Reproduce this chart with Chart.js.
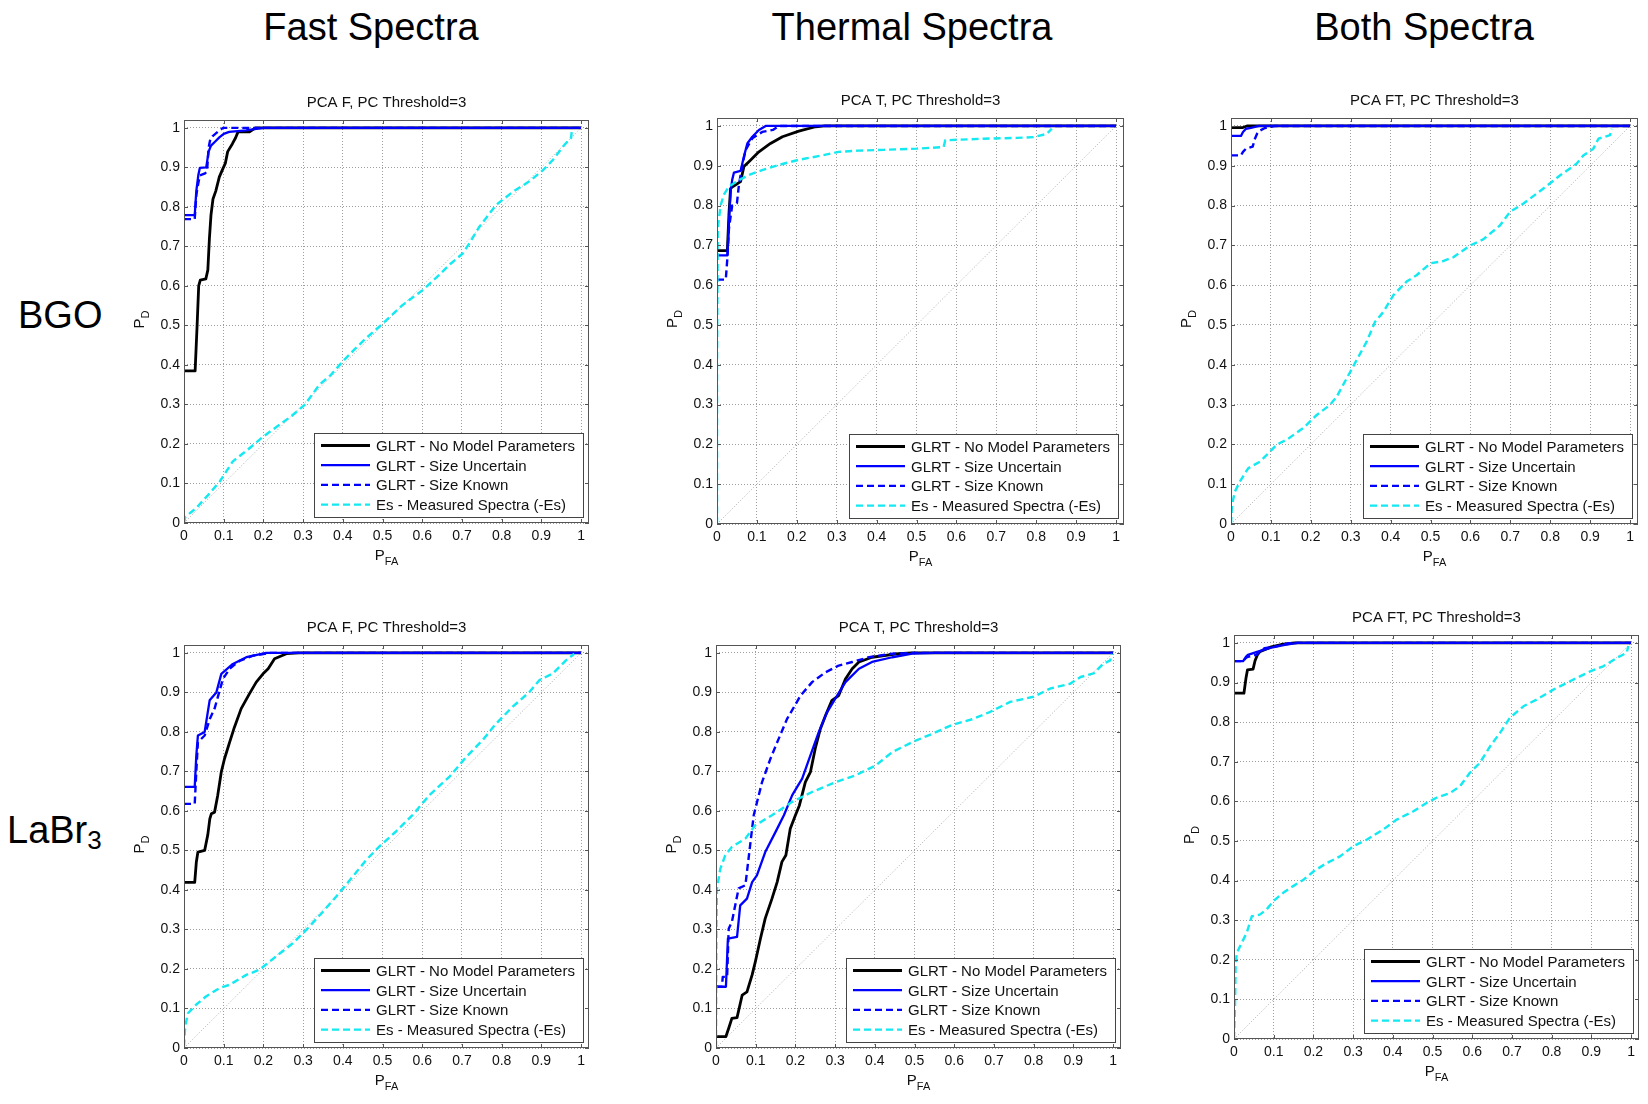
<!DOCTYPE html>
<html>
<head>
<meta charset="utf-8">
<title>PCA ROC curves</title>
<script src="https://cdn.jsdelivr.net/npm/chart.js@4.4.1/dist/chart.umd.min.js"></script>
<style>
  html, body { margin: 0; padding: 0; background: #fff; width: 1648px; height: 1104px; overflow: hidden; }
  body { position: relative; font-family: "Liberation Sans", Arial, Helvetica, sans-serif; color: #000; }
  .heading { position: absolute; font-size: 38px; line-height: 38px; white-space: nowrap; transform: translateX(-50%); }
  .rowlabel { position: absolute; font-size: 38px; line-height: 38px; white-space: nowrap; }
  .rowlabel sub { font-size: 26px; line-height: 0; vertical-align: -6px; }
  canvas { position: absolute; }
</style>
</head>
<body>
<script>
// ---------- shared axis / text content ----------
const tickValues = [0, 0.1, 0.2, 0.3, 0.4, 0.5, 0.6, 0.7, 0.8, 0.9, 1];
const tickLabels = ['0', '0.1', '0.2', '0.3', '0.4', '0.5', '0.6', '0.7', '0.8', '0.9', '1'];
const axisMax = 1.02;

const columnTitles = ['Fast Spectra', 'Thermal Spectra', 'Both Spectra'];
const rowTitles = [['BGO', ''], ['LaBr', '3']];
const panelTitles = ['PCA F, PC Threshold=3', 'PCA T, PC Threshold=3', 'PCA FT, PC Threshold=3'];
const seriesNames = [
  'GLRT - No Model Parameters',
  'GLRT - Size Uncertain',
  'GLRT - Size Known',
  'Es - Measured Spectra (-Es)'
];
const xAxisTitle = ['P', 'FA'];
const yAxisTitle = ['P', 'D'];

// chance diagonal
const chanceLine = [[0, 0], [1, 1]];

// ---------- BGO, fast spectra (PFA, PD) ----------
const fastBgoNoModel = [[0,.385],[.028,.385],[.033,.5],[.037,.6],[.041,.615],[.055,.618],[.06,.64],[.064,.72],[.068,.78],[.073,.82],[.08,.84],[.089,.876],[.098,.897],[.104,.91],[.11,.94],[.122,.96],[.13,.975],[.136,.99],[.165,.99],[.18,1],[1,1]];
const fastBgoSizeUncertain = [[0,.779],[.027,.779],[.031,.84],[.036,.88],[.04,.899],[.056,.9],[.062,.94],[.068,.955],[.078,.965],[.089,.976],[.1,.985],[.114,.99],[.156,.994],[.2,1],[1,1]];
const fastBgoSizeKnown = [[0,.769],[.027,.769],[.031,.83],[.036,.86],[.04,.88],[.053,.885],[.058,.89],[.062,.95],[.066,.97],[.073,.98],[.085,.99],[.098,1],[1,1]];
const fastBgoMeasured = [[0,0],[.003,.015],[.031,.038],[.06,.07],[.09,.105],[.123,.156],[.16,.185],[.2,.219],[.241,.249],[.27,.27],[.304,.299],[.341,.35],[.37,.375],[.4,.409],[.43,.44],[.459,.468],[.501,.505],[.551,.552],[.602,.59],[.643,.628],[.67,.655],[.702,.682],[.72,.71],[.744,.75],[.786,.805],[.828,.838],[.87,.865],[.904,.893],[.93,.92],[.954,.952],[.968,.968],[.975,.975],[.977,.998]];

// ---------- BGO, thermal spectra ----------
const thermalBgoNoModel = [[0,.687],[.026,.687],[.03,.78],[.034,.843],[.04,.848],[.059,.86],[.0675,.898],[.08,.91],[.105,.935],[.134,.956],[.164,.973],[.205,.987],[.247,.998],[.27,1],[1,1]];
const thermalBgoSizeUncertain = [[0,.675],[.026,.675],[.03,.76],[.034,.835],[.038,.864],[.0425,.883],[.059,.887],[.0675,.923],[.076,.956],[.0885,.973],[.105,.99],[.122,1],[1,1]];
const thermalBgoSizeKnown = [[0,.614],[.022,.614],[.026,.668],[.03,.743],[.038,.8],[.05,.806],[.055,.852],[.0634,.902],[.072,.94],[.0885,.969],[.1134,.985],[.14,.99],[.155,1],[1,1]];
const thermalBgoMeasured = [[0,0],[0,.4],[.002,.743],[.009,.8],[.017,.827],[.03,.848],[.055,.864],[.08,.877],[.113,.889],[.155,.902],[.205,.915],[.264,.926],[.305,.935],[.355,.938],[.417,.94],[.5,.943],[.568,.947],[.572,.964],[.668,.968],[.751,.97],[.793,.972],[.826,.98],[.839,.993]];

// ---------- BGO, both spectra ----------
const bothBgoNoModel = [[0,.996],[.03,.996],[.04,1],[1,1]];
const bothBgoSizeUncertain = [[0,.975],[.025,.975],[.03,.985],[.0376,.993],[.05,.995],[.07,1],[1,1]];
const bothBgoSizeKnown = [[0,.926],[.025,.926],[.03,.935],[.0376,.943],[.0543,.948],[.06,.968],[.065,.98],[.07,.987],[.085,.995],[.11,1],[1,1]];
const bothBgoMeasured = [[0,0],[.0025,.048],[.01,.082],[.0225,.107],[.043,.14],[.073,.157],[.098,.182],[.114,.199],[.14,.212],[.181,.241],[.215,.274],[.248,.299],[.265,.32],[.29,.366],[.315,.412],[.34,.458],[.361,.508],[.382,.533],[.407,.575],[.44,.609],[.465,.625],[.5,.655],[.53,.66],[.557,.67],[.6,.7],[.632,.715],[.674,.75],[.699,.784],[.733,.805],[.783,.843],[.825,.876],[.866,.905],[.883,.926],[.908,.943],[.921,.968],[.95,.977],[.954,.993]];

// ---------- LaBr3, fast spectra ----------
const fastLabrNoModel = [[0,.419],[.027,.419],[.031,.47],[.035,.496],[.052,.5],[.06,.54],[.065,.58],[.069,.593],[.077,.597],[.085,.64],[.094,.699],[.102,.732],[.115,.774],[.127,.812],[.144,.859],[.165,.897],[.182,.926],[.199,.947],[.212,.96],[.228,.985],[.258,.998],[.29,1],[1,1]];
const fastLabrSizeUncertain = [[0,.661],[.027,.661],[.031,.74],[.035,.791],[.052,.8],[.0646,.88],[.0815,.9],[.094,.947],[.123,.972],[.157,.989],[.207,1],[1,1]];
const fastLabrSizeKnown = [[0,.618],[.027,.618],[.031,.7],[.035,.774],[.052,.791],[.065,.833],[.077,.859],[.098,.934],[.115,.96],[.14,.98],[.174,.993],[.218,1],[1,1]];
const fastLabrMeasured = [[0,.004],[.003,.055],[.01,.088],[.031,.11],[.056,.131],[.09,.152],[.115,.16],[.157,.185],[.19,.198],[.232,.232],[.274,.265],[.308,.299],[.35,.345],[.383,.383],[.425,.434],[.459,.476],[.492,.51],[.534,.548],[.576,.59],[.618,.64],[.669,.687],[.711,.737],[.752,.779],[.786,.821],[.828,.864],[.87,.901],[.895,.931],[.929,.948],[.962,.981],[.983,.998]];

// ---------- LaBr3, thermal spectra ----------
const thermalLabrNoModel = [[0,.029],[.025,.029],[.032,.05],[.04,.075],[.053,.077],[.066,.134],[.078,.142],[.091,.185],[.099,.218],[.112,.277],[.124,.328],[.141,.378],[.154,.42],[.166,.471],[.176,.488],[.187,.555],[.2,.589],[.21,.614],[.225,.673],[.238,.699],[.25,.758],[.263,.808],[.276,.842],[.292,.88],[.309,.892],[.326,.934],[.343,.96],[.36,.977],[.393,.989],[.46,.998],[.494,1],[1,1]];
const thermalLabrSizeUncertain = [[0,.155],[.025,.155],[.03,.277],[.053,.281],[.061,.361],[.078,.378],[.091,.42],[.103,.437],[.124,.496],[.15,.547],[.171,.589],[.192,.64],[.217,.682],[.238,.741],[.259,.8],[.28,.85],[.305,.892],[.326,.926],[.36,.96],[.393,.977],[.444,.989],[.494,.998],[.55,1],[1,1]];
const thermalLabrSizeKnown = [[0,.155],[.015,.155],[.017,.18],[.028,.18],[.032,.302],[.04,.319],[.057,.404],[.074,.412],[.087,.522],[.095,.589],[.116,.673],[.137,.732],[.158,.783],[.179,.833],[.213,.892],[.242,.926],[.276,.951],[.309,.968],[.343,.977],[.385,.989],[.444,.998],[.5,1],[1,1]];
const thermalLabrMeasured = [[0,0],[.001,.3],[.0025,.404],[.011,.454],[.0235,.488],[.04,.509],[.074,.53],[.099,.564],[.141,.589],[.192,.623],[.242,.648],[.301,.673],[.351,.69],[.402,.715],[.444,.749],[.494,.774],[.544,.795],[.595,.818],[.645,.832],[.691,.851],[.741,.876],[.8,.889],[.842,.91],[.892,.922],[.918,.939],[.951,.948],[.976,.973],[.993,.981],[.997,.998]];

// ---------- LaBr3, both spectra ----------
const bothLabrNoModel = [[0,.873],[.025,.873],[.03,.91],[.034,.932],[.048,.934],[.053,.955],[.059,.97],[.065,.978],[.094,.99],[.119,.996],[.153,1],[1,1]];
const bothLabrSizeUncertain = [[0,.954],[.023,.954],[.03,.965],[.035,.97],[.06,.978],[.094,.988],[.128,.995],[.16,1],[1,1]];
const bothLabrSizeKnown = [[0,.954],[.023,.954],[.03,.962],[.035,.965],[.056,.97],[.077,.987],[.102,.99],[.136,.999],[.16,1],[1,1]];
const bothLabrMeasured = [[0,0],[.0025,.082],[.004,.184],[.007,.217],[.019,.242],[.032,.268],[.045,.31],[.065,.314],[.082,.327],[.099,.348],[.124,.369],[.149,.386],[.175,.402],[.2,.423],[.233,.444],[.267,.461],[.301,.487],[.334,.503],[.376,.529],[.41,.554],[.452,.575],[.485,.596],[.51,.609],[.544,.621],[.569,.638],[.594,.672],[.619,.697],[.645,.739],[.67,.773],[.695,.811],[.729,.84],[.762,.857],[.804,.882],[.838,.899],[.864,.912],[.897,.928],[.93,.941],[.964,.962],[.989,.975],[.993,.992]];

// ---------- panel grid (row-major) ----------
const panelSeries = [
  [fastBgoNoModel, fastBgoSizeUncertain, fastBgoSizeKnown, fastBgoMeasured],
  [thermalBgoNoModel, thermalBgoSizeUncertain, thermalBgoSizeKnown, thermalBgoMeasured],
  [bothBgoNoModel, bothBgoSizeUncertain, bothBgoSizeKnown, bothBgoMeasured],
  [fastLabrNoModel, fastLabrSizeUncertain, fastLabrSizeKnown, fastLabrMeasured],
  [thermalLabrNoModel, thermalLabrSizeUncertain, thermalLabrSizeKnown, thermalLabrMeasured],
  [bothLabrNoModel, bothLabrSizeUncertain, bothLabrSizeKnown, bothLabrMeasured]
];

// plot-box placement on the page (left, top, width, height)
const panelBoxes = [
  [184, 120, 405, 403], [717, 118, 407, 406], [1231, 118, 407, 406],
  [184, 645, 405, 403], [716, 645, 405, 403], [1234, 635, 405, 404]
];
const PAD_L = 75, PAD_T = 35, PAD_R = 8, PAD_B = 55;

const FONT = '"Liberation Sans", Arial, Helvetica, sans-serif';
Chart.defaults.font.family = FONT;

const seriesStyles = [
  { borderColor: '#000000', borderWidth: 2.8, borderDash: [], order: 4 },
  { borderColor: '#0000ff', borderWidth: 2.3, borderDash: [], order: 3 },
  { borderColor: '#0000ff', borderWidth: 2.4, borderDash: [7, 4], order: 2 },
  { borderColor: '#12e9f0', borderWidth: 2.4, borderDash: [7, 4], order: 1 }
];

// headings
columnTitles.forEach((t, i) => {
  const d = document.createElement('div');
  d.className = 'heading';
  d.textContent = t;
  d.style.left = [371, 912, 1424][i] + 'px';
  d.style.top = '8px';
  document.body.appendChild(d);
});
rowTitles.forEach((t, i) => {
  const d = document.createElement('div');
  d.className = 'rowlabel';
  d.appendChild(document.createTextNode(t[0]));
  if (t[1]) { const s = document.createElement('sub'); s.textContent = t[1]; d.appendChild(s); }
  d.style.left = [18, 7][i] + 'px';
  d.style.top = [296, 811][i] + 'px';
  document.body.appendChild(d);
});

// box, inward ticks, title, axis labels with subscripts and in-axes legend
const panelDecor = {
  id: 'panelDecor',
  afterDraw(chart, args, opts) {
    const { ctx, chartArea: a, scales: { x, y } } = chart;
    ctx.save();
    ctx.strokeStyle = '#555';
    ctx.lineWidth = 1;
    ctx.setLineDash([]);
    ctx.beginPath();
    tickValues.forEach(v => {
      const px = Math.round(x.getPixelForValue(v)) + 0.5;
      ctx.moveTo(px, a.bottom); ctx.lineTo(px, a.bottom - 4);
      ctx.moveTo(px, a.top); ctx.lineTo(px, a.top + 4);
      const py = Math.round(y.getPixelForValue(v)) + 0.5;
      ctx.moveTo(a.left, py); ctx.lineTo(a.left + 4, py);
      ctx.moveTo(a.right, py); ctx.lineTo(a.right - 4, py);
    });
    ctx.stroke();
    ctx.strokeRect(Math.round(a.left) + 0.5, Math.round(a.top) + 0.5,
      Math.round(a.right - a.left) - 1, Math.round(a.bottom - a.top) - 1);

    // title
    ctx.fillStyle = '#111';
    ctx.font = '15px ' + FONT;
    ctx.textAlign = 'center';
    ctx.textBaseline = 'alphabetic';
    ctx.fillText(opts.title, (a.left + a.right) / 2, a.top - 13);

    // x-axis title
    ctx.textAlign = 'left';
    ctx.font = '15px ' + FONT;
    const wxP = ctx.measureText(xAxisTitle[0]).width;
    ctx.font = '11px ' + FONT;
    const wxS = ctx.measureText(xAxisTitle[1]).width;
    const x0 = (a.left + a.right) / 2 - (wxP + wxS) / 2;
    const by = a.bottom + 37;
    ctx.font = '15px ' + FONT;
    ctx.fillText(xAxisTitle[0], x0, by);
    ctx.font = '11px ' + FONT;
    ctx.fillText(xAxisTitle[1], x0 + wxP, by + 5);

    // y-axis title (rotated)
    ctx.save();
    ctx.translate(a.left - 40, (a.top + a.bottom) / 2 - 2);
    ctx.rotate(-Math.PI / 2);
    ctx.font = '15px ' + FONT;
    const wyP = ctx.measureText(yAxisTitle[0]).width;
    ctx.font = '11px ' + FONT;
    const wyS = ctx.measureText(yAxisTitle[1]).width;
    const y0 = -(wyP + wyS) / 2;
    ctx.font = '15px ' + FONT;
    ctx.fillText(yAxisTitle[0], y0, 0);
    ctx.font = '11px ' + FONT;
    ctx.fillText(yAxisTitle[1], y0 + wyP, 5);
    ctx.restore();

    // legend
    ctx.font = '15px ' + FONT;
    const ds = chart.data.datasets.slice(0, 4);
    const maxW = Math.max(...ds.map(d => ctx.measureText(d.label).width));
    const lw = Math.round(62 + maxW + 8), lh = 84;
    const lx = Math.round(a.right - 6 - lw), ly = Math.round(a.bottom - 6 - lh);
    ctx.fillStyle = '#fff';
    ctx.fillRect(lx, ly, lw, lh);
    ctx.strokeStyle = '#444';
    ctx.lineWidth = 1;
    ctx.strokeRect(lx + 0.5, ly + 0.5, lw, lh);
    ds.forEach((d, i) => {
      const cy = ly + 12.5 + i * 19.7;
      ctx.save();
      ctx.strokeStyle = d.borderColor;
      ctx.lineWidth = d.borderWidth;
      ctx.setLineDash(d.borderDash || []);
      ctx.beginPath();
      ctx.moveTo(lx + 7, cy); ctx.lineTo(lx + 56, cy);
      ctx.stroke();
      ctx.restore();
      ctx.fillStyle = '#111';
      ctx.textAlign = 'left';
      ctx.textBaseline = 'alphabetic';
      ctx.fillText(d.label, lx + 62, cy + 5.5);
    });
    ctx.restore();
  }
};

function axisOptions(isX) {
  return {
    type: 'linear',
    min: 0,
    max: axisMax,
    afterBuildTicks: s => { s.ticks = tickValues.map(v => ({ value: v })); },
    afterFit: s => { if (isX) s.height = PAD_B; else s.width = PAD_L; },
    ticks: {
      callback: (v, i) => tickLabels[i],
      font: { size: 14 },
      color: '#111',
      padding: isX ? 5 : 4,
      maxRotation: 0,
      autoSkip: false
    },
    grid: { color: '#9e9e9e', lineWidth: 1, drawTicks: false },
    border: { display: false, dash: [1, 2] }
  };
}

panelSeries.forEach((series, p) => {
  const [bl, bt, bw, bh] = panelBoxes[p];
  const cw = bw + PAD_L + PAD_R, chh = bh + PAD_T + PAD_B;
  const canvas = document.createElement('canvas');
  canvas.width = cw; canvas.height = chh;
  canvas.style.width = cw + 'px'; canvas.style.height = chh + 'px';
  canvas.style.left = (bl - PAD_L) + 'px';
  canvas.style.top = (bt - PAD_T) + 'px';
  document.body.appendChild(canvas);

  const datasets = series.map((pts, i) => Object.assign({
    label: seriesNames[i],
    data: pts.map(q => ({ x: q[0], y: q[1] })),
    pointRadius: 0,
    tension: 0,
    fill: false,
    borderJoinStyle: 'round'
  }, seriesStyles[i]));
  datasets.push({
    label: 'chance',
    data: chanceLine.map(q => ({ x: q[0], y: q[1] })),
    borderColor: '#aaaaaa',
    borderWidth: 1,
    borderDash: [1, 2],
    pointRadius: 0,
    order: 5
  });

  new Chart(canvas, {
    type: 'line',
    data: { datasets },
    options: {
      responsive: false,
      animation: false,
      devicePixelRatio: 1,
      events: [],
      layout: { padding: { left: 0, top: PAD_T, right: PAD_R, bottom: 0 } },
      scales: { x: axisOptions(true), y: axisOptions(false) },
      plugins: {
        legend: { display: false },
        tooltip: { enabled: false },
        title: { display: false },
        panelDecor: { title: panelTitles[p % 3] }
      }
    },
    plugins: [panelDecor]
  });
});
</script>
</body>
</html>
